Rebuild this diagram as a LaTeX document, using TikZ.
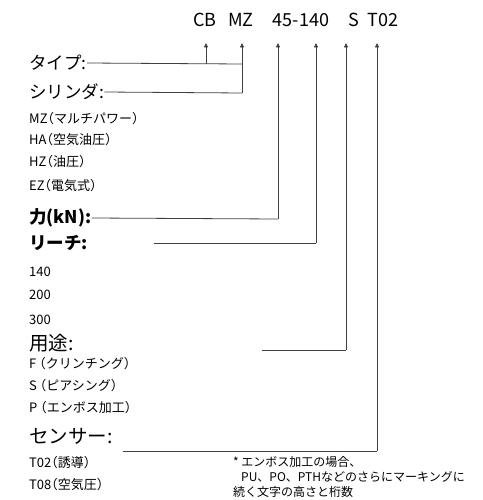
\documentclass[tikz,border=0pt]{standalone}
\usepackage{fontspec}
\setmainfont{Noto Sans CJK JP}
\newfontfamily\itemfont[RawFeature=+halt]{Noto Sans CJK JP}
\usetikzlibrary{arrows.meta}
\begin{document}
\begin{tikzpicture}[x=1pt,y=-1pt,
  lbl/.style={anchor=west,inner sep=0pt,font=\itemfont\fontsize{13}{15}\selectfont},
  head/.style={anchor=west,inner sep=0pt,font=\fontsize{17.5}{19}\selectfont},
  bighead/.style={anchor=west,inner sep=0pt,font=\fontsize{19.5}{21}\selectfont},
  boldhead/.style={anchor=west,inner sep=0pt,font=\fontsize{17.5}{20}\selectfont\bfseries},
  code/.style={inner sep=0pt,font=\fontsize{18}{20}\selectfont},
  note/.style={anchor=west,inner sep=0pt,font=\fontsize{12}{14}\selectfont},
  ln/.style={draw=black!75,line width=0.8pt},
  arr/.style={ln,-{Triangle[length=4.5pt,width=4pt]}}]
\useasboundingbox (0,0) rectangle (482,500);
% code
\node[code] (cb) at (205,20) {CB};
\node[code] (mz) at (241,20) {MZ};
\node[code] (fr) at (301,20) {45-140};
\node[code] (us) at (354,20) {S};
\node[code] (sn) at (383,20) {T02};
\coordinate (top) at (0,43);
% left labels
\node[head] (type) at (29,63) {タイプ:};
\node[head] (cyl) at (29,92) {シリンダ:};
\node[lbl] (i1) at (29,119) {MZ（マルチパワー）};
\node[lbl] (i2) at (29,140) {HA（空気油圧）};
\node[lbl] (i3) at (29,162) {HZ（油圧）};
\node[lbl] (i4) at (29,186) {EZ（電気式）};
\node[boldhead] (force) at (29,218) {力(kN):};
\node[boldhead] (reach) at (29,243) {リーチ:};
\node[lbl] (r1) at (29,272) {140};
\node[lbl] (r2) at (29,295) {200};
\node[lbl] (r3) at (29,320) {300};
\node[bighead] (use) at (29,343) {用途:};
\node[lbl] (u1) at (29,364) {F （クリンチング）};
\node[lbl] (u2) at (29,386) {S （ピアシング）};
\node[lbl] (u3) at (29,408) {P （エンボス加工）};
\node[bighead] (sens) at (29,436) {センサー:};
\node[lbl] (s1) at (29,463) {T02（誘導）};
\node[lbl] (s2) at (29,485) {T08（空気圧）};
% note
\node[note] (n1) at (233,462) {* エンボス加工の場合、};
\node[note] (n2) at (241,477) {PU、PO、PTHなどのさらにマーキングに};
\node[note] (n3) at (233,492) {続く文字の高さと桁数};
% connectors
\coordinate (k1) at (206,64);
\coordinate (k2t) at (242,64);
\coordinate (k2) at (242,93);
\coordinate (k3) at (278,219);
\coordinate (k4) at (316,243);
\coordinate (k4s) at (154,243);
\coordinate (k5s) at (262,350);
\coordinate (k5) at (346,350);
\coordinate (k6s) at (123,451);
\coordinate (k6) at (377,451);
\draw[ln] (type.east) -- (k2t);
\draw[ln] (cyl.east) -- (k2);
\draw[ln] (force.east) -- (k3);
\draw[ln] (k4s) -- (k4);
\draw[ln] (k5s) -- (k5);
\draw[ln] (k6s) -- (k6);
\draw[arr] (k1) -- (k1 |- top);
\draw[arr] (k2) -- (k2 |- top);
\draw[arr] (k3) -- (k3 |- top);
\draw[arr] (k4) -- (k4 |- top);
\draw[arr] (k5) -- (k5 |- top);
\draw[arr] (k6) -- (k6 |- top);
\end{tikzpicture}
\end{document}
